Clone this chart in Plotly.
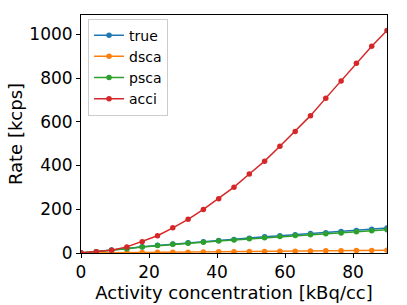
import plotly.graph_objects as go

activity = [0, 4.5, 9, 13.5, 18, 22.5, 27, 31.5, 36, 40.5, 45, 49.5, 54, 58.5, 63, 67.5, 72, 76.5, 81, 85.5, 90]
true_rate = [0, 6, 14, 21, 29, 35, 41, 47, 52, 57, 62, 68, 74, 79, 84, 89, 93, 98, 103, 109, 114]
dsca_rate = [0, 0.5, 1, 1.5, 2, 3, 3.5, 4, 5, 5.5, 6, 6.5, 7, 8, 8.5, 9, 10, 10.5, 11, 12, 13]
psca_rate = [0, 6, 13, 20, 28, 34, 40, 45, 49, 55, 60, 65, 70, 75, 80, 84, 88, 92, 97, 102, 106]
acci_rate = [1, 6, 13, 28, 52, 79, 115, 154, 199, 248, 301, 361, 420, 488, 556, 628, 708, 786, 867, 945, 1017]

series = [
    ("true", true_rate, "#1f77b4"),
    ("dsca", dsca_rate, "#ff7f0e"),
    ("psca", psca_rate, "#2ca02c"),
    ("acci", acci_rate, "#d62728"),
]

fig = go.Figure()
for name, vals, color in series:
    fig.add_trace(go.Scatter(
        x=activity, y=vals, name=name, mode="lines+markers",
        line=dict(color=color, width=1.5),
        marker=dict(color=color, size=5.5),
    ))

axis_common = dict(
    showgrid=False, zeroline=False, showline=True, linecolor="black", linewidth=1,
    mirror=True, ticks="outside", ticklen=4, tickwidth=1, tickcolor="black",
    tickfont=dict(size=17, color="black", family="DejaVu Sans"),
    automargin=False,
)

fig.update_layout(
    width=407, height=305,
    margin=dict(l=81, r=20, t=15, b=52),
    paper_bgcolor="white", plot_bgcolor="white",
    font=dict(family="DejaVu Sans", color="black"),
    xaxis=dict(range=[0, 90], tickvals=[0, 20, 40, 60, 80],
               title=dict(text="Activity concentration [kBq/cc]",
                          font=dict(size=18, family="DejaVu Sans"), standoff=0),
               **axis_common),
    yaxis=dict(range=[0, 1088], tickvals=[0, 200, 400, 600, 800, 1000],
               title=dict(text="Rate [kcps]", font=dict(size=18, family="DejaVu Sans"), standoff=2),
               **axis_common),
    legend=dict(x=0.023, y=0.985, xanchor="left", yanchor="top",
                bordercolor="#cccccc", borderwidth=1, bgcolor="rgba(255,255,255,0.8)",
                font=dict(size=14, family="DejaVu Sans"), tracegroupgap=0, itemwidth=30),
    showlegend=True,
)

fig.write_html("out.html", config={"displayModeBar": False},
               post_script="document.body.style.margin='0';document.body.style.overflow='hidden';")
